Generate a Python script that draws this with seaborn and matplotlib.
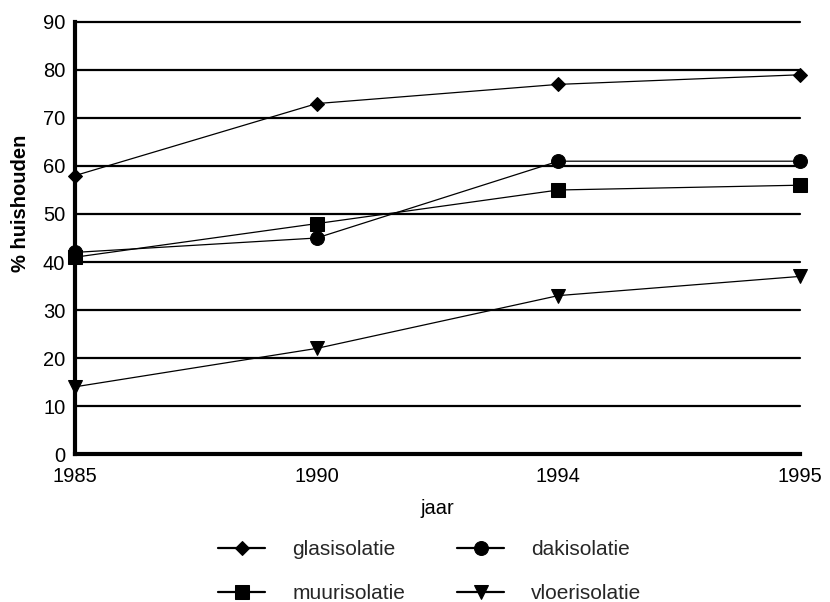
import matplotlib
matplotlib.use("Agg")
import matplotlib.pyplot as plt
import seaborn as sns
import pandas as pd

years = ["1985", "1990", "1994", "1995"]
series = ["glasisolatie", "dakisolatie", "muurisolatie", "vloerisolatie"]
glas = [58, 73, 77, 79]
dak = [42, 45, 61, 61]
muur = [41, 48, 55, 56]
vloer = [14, 22, 33, 37]
y_ticks = [0, 10, 20, 30, 40, 50, 60, 70, 80, 90]

values = {"glasisolatie": glas, "dakisolatie": dak,
          "muurisolatie": muur, "vloerisolatie": vloer}
rows = []
for name in series:
    for i, (yr, v) in enumerate(zip(years, values[name])):
        rows.append({"pos": i, "jaar": yr, "pct": v, "serie": name})
df = pd.DataFrame(rows)

sns.set_theme(style="white")
plt.rcParams["font.family"] = ["Liberation Sans", "DejaVu Sans"]

fig = plt.figure(figsize=(8.3, 6.02), dpi=100)
ax = fig.add_axes([0.0904, 0.2458, 0.8735, 0.7177])

markers = {"glasisolatie": "D", "dakisolatie": "o",
           "muurisolatie": "s", "vloerisolatie": "v"}
sizes = {"glasisolatie": 7, "dakisolatie": 10,
         "muurisolatie": 9.5, "vloerisolatie": 9.5}

# horizontal grid lines
for t in y_ticks[1:]:
    ax.axhline(t, color="black", lw=1.6, zorder=1, clip_on=False)

for name in series:
    sub = df[df["serie"] == name]
    sns.lineplot(data=sub, x="pos", y="pct", ax=ax, color="black", lw=0.9,
                 marker=markers[name], markersize=sizes[name],
                 markeredgecolor="black", markerfacecolor="black",
                 label=name, legend=False, zorder=3, clip_on=False)

ax.set_xlim(0, 3)
ax.set_ylim(0, 90)
ax.set_xticks(range(len(years)))
ax.set_xticklabels(years)
ax.set_yticks(y_ticks)
ax.set_yticklabels([str(t) for t in y_ticks])

for side in ["top", "right"]:
    ax.spines[side].set_visible(False)
for side in ["left", "bottom"]:
    ax.spines[side].set_color("black")
    ax.spines[side].set_linewidth(3)
    ax.spines[side].set_zorder(4)

ax.tick_params(axis="x", direction="inout", length=10, width=3,
               color="black", labelsize=14.5, labelcolor="black", pad=4.5)
ax.tick_params(axis="y", direction="out", length=6, width=3,
               color="black", labelsize=14.5, labelcolor="black", pad=1)

ax.set_xlabel("jaar", fontsize=14.5, color="black", labelpad=9)
ax.set_ylabel("% huishouden", fontsize=14.5, fontweight="bold",
              color="black")
ax.yaxis.set_label_coords(-0.062, 0.581)

handles, labels = ax.get_legend_handles_labels()
order = ["glasisolatie", "muurisolatie", "dakisolatie", "vloerisolatie"]
hmap = dict(zip(labels, handles))
leg = fig.legend([hmap[o] for o in order], order, loc="upper left",
                 bbox_to_anchor=(0.2627, 0.103), ncol=2, frameon=False,
                 fontsize=15, handlelength=2.26, handletextpad=1.3,
                 columnspacing=2.5, labelspacing=1.2, borderpad=0,
                 borderaxespad=0)
for line in leg.get_lines():
    line.set_linewidth(1.6)

fig.savefig("out.png", dpi=100, facecolor="white")
